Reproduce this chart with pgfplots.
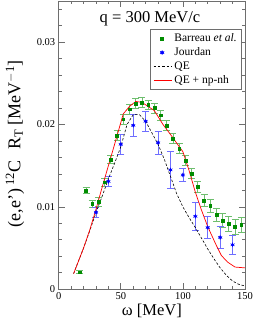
\documentclass[border=0pt]{standalone}
\usepackage{pgfplots}
\pgfplotsset{compat=1.18}
\usepackage{pgfplotstable}
\usepackage{fontspec}
\setmainfont{Liberation Serif}
\definecolor{frame}{RGB}{110,110,110}
\definecolor{dgreen}{RGB}{0,140,0}
\definecolor{lgreen}{RGB}{110,190,110}
\definecolor{lblue}{RGB}{110,110,255}
\pgfdeclareplotmark{bstar}{%
  \pgfuseplotmark{asterisk}%
  {\pgfplotmarksize=0.6\pgfplotmarksize\pgfuseplotmark{*}}}
\pgfplotsset{linelegend/.style={legend image code/.code={\draw[##1] (0cm,0cm) -- (0.65cm,0cm);}}}

\pgfplotstableread{
x y ey
17 0.00207 0.00020
22 0.01200 0.00040
27 0.01040 0.00040
32 0.01060 0.00050
37 0.01300 0.00050
42 0.01577 0.00050
47 0.01863 0.00060
52 0.02065 0.00060
57 0.02187 0.00060
62 0.02254 0.00060
67 0.02266 0.00060
72 0.02239 0.00060
77 0.02200 0.00060
82 0.02113 0.00060
87 0.01988 0.00060
92 0.01829 0.00060
97 0.01707 0.00060
102 0.01565 0.00060
107 0.01406 0.00065
112 0.01244 0.00070
117 0.01080 0.00075
122 0.01016 0.00080
127 0.00906 0.00080
132 0.00833 0.00085
137 0.00793 0.00090
142 0.00756 0.00090
147 0.00784 0.00093
}\barreau

\pgfplotstableread{
x y ey
30 0.00934 0.00057
40 0.01310 0.00060
50 0.01760 0.00120
60 0.01990 0.00130
70 0.02040 0.00120
80 0.01780 0.00140
90 0.01450 0.00230
100 0.01388 0.00080
110 0.00886 0.00170
120 0.00750 0.00130
130 0.00630 0.00130
140 0.00540 0.00120
}\jourdan

\pgfplotstableread{
x y
12 0.0019
20 0.0050
25 0.0071
30 0.0093
35 0.0113
40 0.0134
45 0.0153
50 0.0173
55 0.0200
60 0.0212
65 0.0212
70 0.0204
75 0.0190
80 0.0176
85 0.0158
90 0.0137
95 0.0116
100 0.0100
105 0.0087
110 0.0075
115 0.0062
120 0.0049
125 0.0037
130 0.0026
135 0.0017
140 0.0010
145 0.0006
150 0.0004
}\qe

\pgfplotstableread{
x y
12 0.0019
20 0.0050
25 0.0072
30 0.0097
35 0.0124
40 0.0150
45 0.0176
52 0.0213
57 0.0222
62 0.0228
67 0.0227
72 0.0222
77 0.0217
84 0.0200
90 0.0188
100 0.0167
105 0.0144
110 0.0118
115 0.0096
120 0.0076
127 0.0053
131 0.0041
136 0.0033
142 0.0027
150 0.0026
}\qenp

\begin{document}
\begin{tikzpicture}
\begin{axis}[
  scale only axis,
  width=186.3pt, height=288.3pt,
  xmin=0, xmax=150, ymin=0, ymax=0.035,
  axis line style={frame, line width=0.8pt},
  tick style={frame, line width=0.8pt},
  major tick length=6pt, minor tick length=3pt,
  tick align=inside,
  xtick={0,50,100,150},
  minor xtick={10,20,30,40,60,70,80,90,110,120,130,140},
  ytick={0,0.01,0.02,0.03},
  yticklabels={0,0.01,0.02,0.03},
  minor ytick={0.002,0.004,0.006,0.008,0.012,0.014,0.016,0.018,0.022,0.024,0.026,0.028,0.032,0.034},
  scaled y ticks=false,
  /pgf/number format/assume math mode=true,
  ticklabel style={font=\fontsize{10.5}{12}\selectfont},
  xlabel={\fontsize{16.5}{18}\selectfont ω [MeV]},
  xlabel style={yshift=3pt},
  legend style={at={(rel axis cs:0.984,0.903)}, anchor=north east,
    draw=frame, line width=0.6pt, font=\fontsize{11.5}{13}\selectfont,
    row sep=0.6pt, inner xsep=3pt, inner ysep=2.5pt},
  legend cell align=left,
  clip=false,
]
\addplot[only marks, mark=square*, mark size=1.4pt, color=dgreen,
  error bars/.cd, y dir=both, y explicit,
  error bar style={lgreen, line width=0.8pt},
  error mark options={rotate=90, mark size=3.5pt, lgreen, line width=0.8pt}]
  table[x=x, y=y, y error=ey] {\barreau};
\addlegendentry{Barreau \textit{et al.}}
\addplot[only marks, mark=bstar, mark size=2.4pt, color=blue,
  error bars/.cd, y dir=both, y explicit,
  error bar style={lblue, line width=0.8pt},
  error mark options={rotate=90, mark size=3.5pt, lblue, line width=0.8pt}]
  table[x=x, y=y, y error=ey] {\jourdan};
\addlegendentry{Jourdan}
\addplot[black, line width=0.6pt, dash pattern=on 2.5pt off 1.8pt, no marks, linelegend] table[x=x,y=y] {\qe};
\addlegendentry{QE}
\addplot[red, line width=0.7pt, no marks, linelegend] table[x=x,y=y] {\qenp};
\addlegendentry{QE + np-nh}
\node[font=\fontsize{16.5}{18}\selectfont] at (rel axis cs:0.49,0.94) {q = 300 MeV/c};
\node[rotate=90, font=\fontsize{18}{20}\selectfont] at (rel axis cs:-0.235,0.505)
  {(e,e')\,$^{\mathrm{12}}$C\hspace{0.6em}R$_{\mathrm{T}}$ [MeV$^{\mathrm{-1}}$]};
\end{axis}
\pgfresetboundingbox
\path[use as bounding box] ([shift={(-58.7pt,-33.7pt)}]current axis.south west) rectangle ([shift={(11pt,1pt)}]current axis.north east);
\end{tikzpicture}
\end{document}
